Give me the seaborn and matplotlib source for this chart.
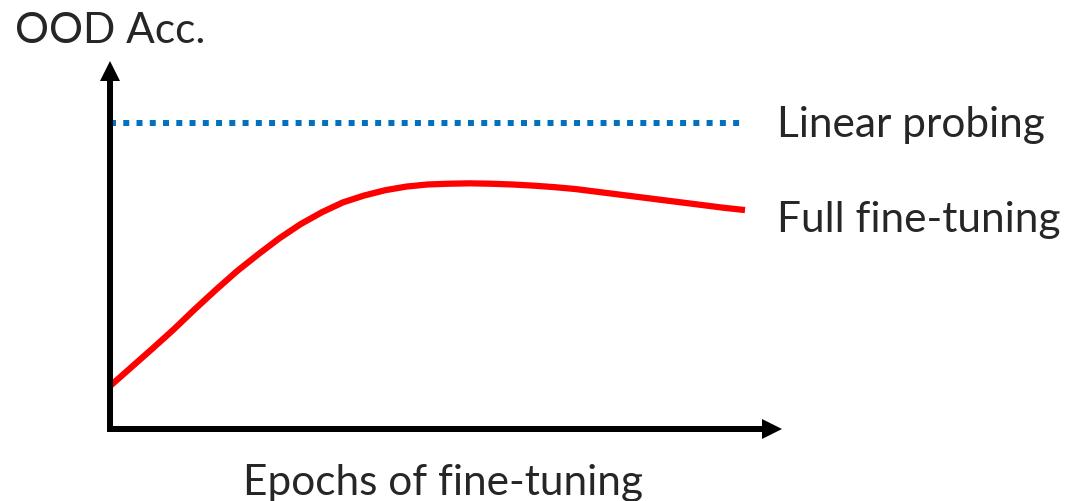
import numpy as np
import matplotlib
matplotlib.use("Agg")
import matplotlib.pyplot as plt
from matplotlib.transforms import offset_copy
import seaborn as sns

# Out-of-distribution accuracy over fine-tuning epochs (half-epoch steps)
epochs = np.arange(0, 15.5, 0.5)
full_ft_acc = [11.1, 16.0, 20.9, 25.9, 31.2, 36.3, 41.2, 45.6, 49.8, 53.5,
               56.6, 59.2, 61.0, 62.4, 63.35, 63.9, 64.1, 64.2, 64.1, 63.9,
               63.6, 63.2, 62.7, 62.0, 61.3, 60.6, 59.9, 59.2, 58.5, 57.8,
               57.2]
linear_probe_acc = 80.0

y_label = "OOD Acc."
x_label = "Epochs of fine-tuning"
series_labels = ["Linear probing", "Full fine-tuning"]

W, H, DPI = 1081, 502, 100
sns.set_theme(style="white")
plt.rcParams["font.family"] = ["Lato", "DejaVu Sans"]
FS = 30.5

fig = plt.figure(figsize=(W / DPI, H / DPI), dpi=DPI)
fig.patch.set_facecolor("white")

# plot area in pixels, measured from the top-left corner of the figure
x0, x_end, x_tip = 110, 745, 782
y0, y_lp, y_tip = 429.5, 124, 62
axw, axh = x_tip - x0, y0 - y_tip
ax = fig.add_axes([x0 / W, 1 - y0 / H, axw / W, axh / H])
ax.set_xlim(0, epochs[-1] * axw / (x_end - x0))
ax.set_ylim(0, linear_probe_acc * axh / (y0 - y_lp))
ax.axis("off")

# curves
sns.lineplot(x=epochs, y=full_ft_acc, ax=ax, color="#FF0000", lw=4.5,
             solid_capstyle="butt", solid_joinstyle="round", zorder=3)
ax.plot([epochs[0], epochs[-1]], [linear_probe_acc, linear_probe_acc],
        color="#0070C0", lw=4.3, linestyle=(0, (1, 1.22)),
        dash_capstyle="butt", zorder=3)

# arrowed axes
LW = 4.32
HEAD = 20  # arrow head size in pixels
ax.plot([0, 0], [0, 1 - (HEAD - 2) / axh], transform=ax.transAxes, color="black",
        lw=LW, solid_capstyle="projecting", clip_on=False, zorder=5)
ax.plot([0, 1 - (HEAD - 2) / axw], [0, 0], transform=ax.transAxes, color="black",
        lw=LW, solid_capstyle="projecting", clip_on=False, zorder=5)
ax.plot([0], [1], marker="^", ms=HEAD * 72 / DPI, mew=0, color="black",
        transform=offset_copy(ax.transAxes, fig, y=-HEAD / 2, units="dots"),
        clip_on=False, zorder=5)
ax.plot([1], [0], marker=">", ms=HEAD * 72 / DPI, mew=0, color="black",
        transform=offset_copy(ax.transAxes, fig, x=-HEAD / 2, units="dots"),
        clip_on=False, zorder=5)

# labels
def px(x, y):
    return x / W, 1 - y / H

fig.text(*px(15, 43), y_label, fontsize=FS, va="baseline", ha="left")
fig.text(*px(443, 495), x_label, fontsize=FS, va="baseline", ha="center")
fig.text(*px(777, 137), series_labels[0], fontsize=FS, va="baseline", ha="left")
fig.text(*px(777, 232), series_labels[1], fontsize=FS, va="baseline", ha="left")

fig.savefig("out.png", dpi=DPI, facecolor="white")
